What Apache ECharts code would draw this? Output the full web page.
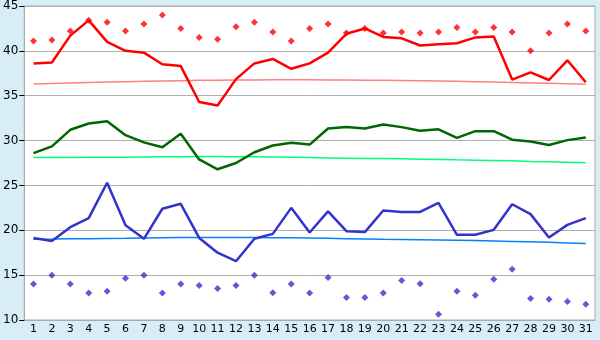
<!DOCTYPE html>
<html>
<head>
<meta charset="utf-8">
<script src="https://cdn.jsdelivr.net/npm/echarts@6/dist/echarts.min.js"></script>
<style>
  html, body { margin: 0; padding: 0; background: #d8eef6; }
  #main { width: 600px; height: 340px; }
</style>
</head>
<body>
<div id="main"></div>
<script>
// days of the month
const days = [];
for (let d = 1; d <= 31; d++) days.push(String(d));

const redLine = [38.6, 38.7, 41.7, 43.4, 41.0, 40.0, 39.8, 38.5, 38.3, 34.3,
  33.9, 36.85, 38.6, 39.1, 38.0, 38.6, 39.8, 41.9, 42.5, 41.55,
  41.4, 40.6, 40.75, 40.85, 41.5, 41.6, 36.8, 37.6, 36.75, 38.95, 36.5];
const redDots = [41.1, 41.2, 42.2, 43.4, 43.2, 42.2, 43.0, 44.0, 42.5, 41.5,
  41.3, 42.7, 43.2, 42.1, 41.1, 42.5, 43.0, 42.0, 42.5, 42.0,
  42.1, 42.0, 42.1, 42.6, 42.1, 42.6, 42.1, 40.0, 42.0, 43.0, 42.2];
const redTrend = [36.30, 36.37, 36.43, 36.48, 36.53, 36.57, 36.61, 36.65, 36.68, 36.71,
  36.73, 36.75, 36.76, 36.77, 36.77, 36.77, 36.76, 36.75, 36.73, 36.71,
  36.69, 36.66, 36.63, 36.60, 36.56, 36.52, 36.48, 36.43, 36.38, 36.33, 36.28];

const greenLine = [28.6, 29.35, 31.2, 31.9, 32.15, 30.6, 29.8, 29.25, 30.75, 27.9,
  26.8, 27.5, 28.7, 29.45, 29.75, 29.55, 31.35, 31.5, 31.35, 31.8,
  31.5, 31.1, 31.25, 30.3, 31.05, 31.05, 30.1, 29.9, 29.5, 30.05, 30.35];
const greenTrend = [28.10, 28.11, 28.12, 28.13, 28.14, 28.15, 28.17, 28.19, 28.21, 28.22,
  28.22, 28.21, 28.19, 28.16, 28.13, 28.10, 28.07, 28.04, 28.01, 27.99,
  27.96, 27.93, 27.89, 27.85, 27.82, 27.78, 27.74, 27.68, 27.63, 27.58, 27.52];

const blueLine = [19.15, 18.8, 20.35, 21.35, 25.3, 20.55, 19.05, 22.4, 22.95, 19.15,
  17.5, 16.55, 19.05, 19.6, 22.5, 19.75, 22.1, 19.9, 19.8, 22.2,
  22.05, 22.05, 23.05, 19.5, 19.5, 20.05, 22.9, 21.8, 19.2, 20.6, 21.35];
const blueDots = [14.0, 15.0, 14.0, 13.0, 13.2, 14.65, 15.0, 13.0, 14.0, 13.85,
  13.5, 13.85, 15.0, 13.05, 14.0, 13.0, 14.75, 12.5, 12.5, 13.0,
  14.4, 14.05, 10.65, 13.2, 12.75, 14.55, 15.65, 12.4, 12.3, 12.05, 11.75];
const blueTrend = [19.00, 19.02, 19.05, 19.07, 19.09, 19.11, 19.14, 19.17, 19.19, 19.20,
  19.20, 19.20, 19.19, 19.18, 19.16, 19.13, 19.10, 19.07, 19.03, 18.99,
  18.96, 18.94, 18.92, 18.89, 18.85, 18.81, 18.76, 18.71, 18.66, 18.59, 18.52];

const myChart = echarts.init(document.getElementById('main'));

function line(data, color, width) {
  return {
    type       : 'line',
    data       : data,
    symbol     : 'none',
    silent     : true,
    lineStyle  : { color: color, width: width },
    animation  : false,
  };
}
function dots(data, color) {
  return {
    type       : 'scatter',
    data       : data,
    symbol     : 'diamond',
    symbolSize : 7,
    silent     : true,
    itemStyle  : { color: color },
    animation  : false,
  };
}

myChart.setOption({
  backgroundColor : '#d8eef6',
  textStyle       : { fontFamily: 'DejaVu Sans' },
  grid            : {
    left            : 20,
    right           : 5,
    top             : 5,
    bottom          : 20,
    show            : true,
    backgroundColor : '#ffffff',
    borderColor     : '#aaaaaa',
    borderWidth     : 1,
  },
  xAxis: {
    type        : 'category',
    data        : days,
    boundaryGap : true,
    axisLine    : { lineStyle: { color: '#aaaaaa' } },
    axisTick    : { alignWithLabel: true, interval: 0, length: 5, lineStyle: { color: '#000' } },
    axisLabel   : { interval: 0, color: '#000', fontSize: 11, margin: 4 },
  },
  yAxis: {
    type      : 'value',
    min       : 10,
    max       : 45,
    interval  : 5,
    axisLine  : { show: true, lineStyle: { color: '#aaaaaa' } },
    axisTick  : { show: true, length: 5, lineStyle: { color: '#000' } },
    axisLabel : { color: '#000', fontSize: 12, margin: 6 },
    splitLine : { lineStyle: { color: '#b0b0b0' } },
  },
  series: [
    line(redTrend, '#ff8080', 1.5),
    line(greenTrend, '#00ff80', 1.5),
    line(blueTrend, '#0080ff', 1.5),
    line(redLine, '#ff0000', 2.5),
    line(greenLine, '#006600', 2.5),
    line(blueLine, '#3333cc', 2.5),
    dots(redDots, '#ff0000'),
    dots(blueDots, '#3333cc'),
  ],
});
</script>
</body>
</html>
